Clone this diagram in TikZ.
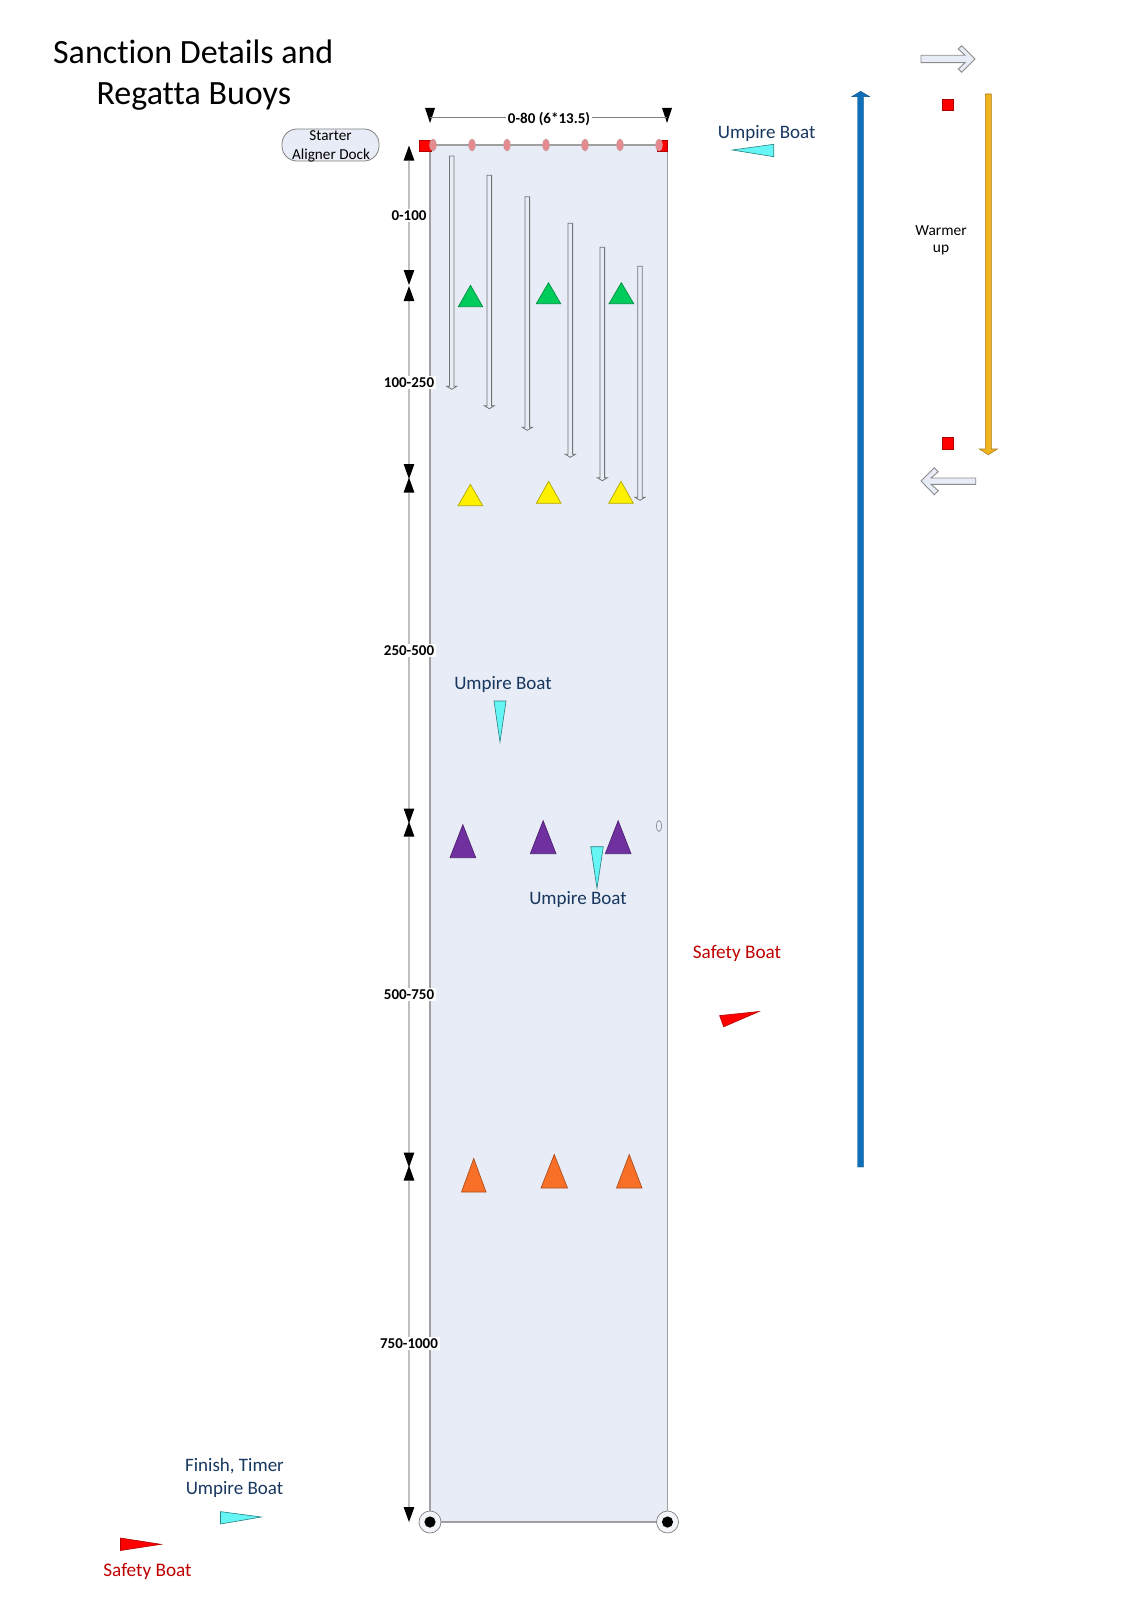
\documentclass[tikz,border=0pt]{standalone}
\usepackage{fontspec}
\setmainfont[Ligatures=NoCommon]{Carlito}
\usetikzlibrary{arrows.meta}
\definecolor{lane}{HTML}{E8ECF6}
\definecolor{rule}{HTML}{BFBFBF}
\definecolor{edgec}{HTML}{A0A0A0}
\definecolor{navy}{HTML}{17375E}
\definecolor{pinkb}{HTML}{E58A8F}
\definecolor{boatc}{HTML}{66F5F5}
\definecolor{greenb}{HTML}{00CC5C}
\definecolor{yellowb}{HTML}{FFF000}
\definecolor{purpleb}{HTML}{7030A0}
\definecolor{orangeb}{HTML}{F87028}
\definecolor{bluea}{HTML}{0F6FB8}
\definecolor{golda}{HTML}{F0B41E}
\tikzset{
  x=0.5pt,y=-0.5pt,
  dimline/.style={draw=rule,line width=0.65pt,{Triangle[length=7.5pt,width=5.4pt,color=black,line width=0pt]}-{Triangle[length=7.5pt,width=5.4pt,color=black,line width=0pt]}},
  dimlabel/.style={fill=white,inner sep=0.8pt,font=\bfseries\fontsize{7.5}{9}\selectfont,text=black},
  boatlabel/.style={font=\fontsize{9.5}{11}\selectfont,text=navy,inner sep=0pt,align=center},
  safelabel/.style={font=\fontsize{9.6}{11}\selectfont,text=red!75!black,inner sep=0pt},
  boat/.style={fill=boatc,draw=teal!70!gray,line width=0.3pt},
  redboat/.style={fill=red,draw=red!70!black,line width=0.3pt},
  buoy/.style={line width=0.35pt},
  gate/.style={fill=pinkb,draw=rule!80!red,line width=0.3pt},
  redsq/.style={fill=red,draw=red!70!black,line width=0.35pt},
  lanearrow/.style={fill=lane,draw=gray!90!black,line width=0.4pt},
  hollow/.style={fill=lane,draw=gray!90!white,line width=0.45pt},
}
\newcommand{\tri}[5]{\fill[#1,buoy,draw=#1!70!black] (#2,#5) -- (#3,#5) -- ({(#2+#3)/2},#4) -- cycle;}
\newcommand{\lanearr}[3]{\draw[lanearrow] ({#1-2.3},#2) -- ({#1+2.3},#2) -- ({#1+2.3},{#3-3}) -- ({#1+5},{#3-3}) -- (#1,#3) -- ({#1-5},{#3-3}) -- ({#1-2.3},{#3-3}) -- cycle;}
\begin{document}
\begin{tikzpicture}
\useasboundingbox (0,0) rectangle (1132,1600);
% course
\fill[lane,draw=edgec,line width=0.55pt] (430,145) rectangle (667.5,1522);
% title
\node[font=\fontsize{17}{20}\selectfont,inner sep=0pt,anchor=base] (title1) at (193.3,64) {Sanction Details and};
\node[font=\fontsize{17}{20}\selectfont,inner sep=0pt,anchor=base] (title2) at (193.8,104.7) {Regatta Buoys};
% width dimension
\coordinate (wl) at (430,118);
\coordinate (wr) at (667,118);
\fill[black] (425,108) -- (435,108) -- (430,123) -- cycle;
\fill[black] (662,108) -- (672,108) -- (667,123) -- cycle;
\draw[draw=gray,line width=0.5pt] (wl) -- (wr);
\node[dimlabel] (wlabel) at (549,119) {0-80 (6*13.5)};
% dock
\node[draw=gray,fill=lane,rounded corners=7.5pt,minimum width=48.5pt,minimum height=16pt,inner sep=0pt,line width=0.4pt] (dock) at (330.5,145) {};
\node[font=\fontsize{7.6}{9}\selectfont,inner sep=0pt] (dock1) at (330.5,136) {Starter};
\node[font=\fontsize{7.6}{9}\selectfont,inner sep=0pt] (dock2) at (331,155.5) {Aligner Dock};
% start
\draw[redsq] (419,140) rectangle (431,151);
\draw[redsq] (657,140) rectangle (667,151);
\foreach \gx in {433,472,507,546,585,620,659}{\draw[gate] (\gx,145) ellipse (3.3 and 6);}
% vertical dimensions
\coordinate (d0) at (409,145.5);
\coordinate (d1) at (409,285);
\coordinate (d1b) at (409,286);
\coordinate (d2) at (409,479);
\coordinate (d2b) at (409,477.5);
\coordinate (d3) at (409,823.5);
\coordinate (d3b) at (409,821.5);
\coordinate (d4) at (409,1167.5);
\coordinate (d4b) at (409,1165.5);
\coordinate (d5) at (409,1522);
\draw[dimline] (d0) -- (d1) node[dimlabel,pos=0.5] (l1) {0-100};
\draw[dimline] (d1b) -- (d2) node[dimlabel,pos=0.5] (l2) {100-250};
\draw[dimline] (d2b) -- (d3) node[dimlabel,pos=0.5] (l3) {250-500};
\draw[dimline] (d3b) -- (d4) node[dimlabel,pos=0.5] (l4) {500-750};
\draw[dimline] (d4b) -- (d5) node[dimlabel,pos=0.5] (l5) {750-1000};
% lane arrows
\lanearr{451.7}{156}{389.3}
\lanearr{489.3}{175.3}{408.7}
\lanearr{527.3}{196.7}{430.3}
\lanearr{570.3}{223.3}{457.3}
\lanearr{602.3}{247.3}{480.7}
\lanearr{640}{266.3}{500.3}
% buoys
\tri{greenb}{458.3}{482.7}{285.3}{306.7}
\tri{greenb}{536.3}{560.7}{282.7}{303.7}
\tri{greenb}{609}{633.7}{282.7}{303.7}
\tri{yellowb}{458}{482.7}{484.3}{505.7}
\tri{yellowb}{536.3}{561}{481.3}{503.3}
\tri{yellowb}{608.7}{633.3}{481.3}{503.3}
\tri{purpleb}{450}{475.7}{824.7}{857.7}
\tri{purpleb}{530.3}{556}{820.7}{853.7}
\tri{purpleb}{605.3}{631}{820.7}{853.7}
\tri{orangeb}{461.5}{486}{1158.5}{1192}
\tri{orangeb}{541}{567.5}{1154.5}{1188}
\tri{orangeb}{616.5}{642}{1154.5}{1188}
\draw[fill=lane,draw=gray,line width=0.3pt] (659,826) ellipse (2.7 and 5.5);
% umpire boats
\node[boatlabel] (ub1) at (766.7,133.5) {Umpire Boat};
\draw[boat] (732.3,150) -- (773.7,144.3) -- (773.7,156.7) -- cycle;
\node[boatlabel] (ub2) at (503,684) {Umpire Boat};
\draw[boat] (494,701) -- (506,701) -- (500,742) -- cycle;
\draw[boat] (590.7,846.7) -- (603.3,846.7) -- (597,888.3) -- cycle;
\node[boatlabel] (ub3) at (578,899) {Umpire Boat};
\node[boatlabel] (ub4a) at (234.5,1466) {Finish, Timer};
\node[boatlabel] (ub4b) at (234.5,1489) {Umpire Boat};
\draw[boat] (220.5,1511.6) -- (220.5,1524) -- (261.3,1517) -- cycle;
% safety
\node[safelabel] (sb1) at (737,953) {Safety Boat};
\draw[redboat] (719.6,1015.6) -- (759,1011.5) -- (723.7,1026.8) -- cycle;
\draw[redboat] (120.5,1538) -- (120.5,1550.5) -- (161,1544.3) -- cycle;
\node[safelabel] (sb2) at (147.5,1571) {Safety Boat};
% finish
\foreach \fx/\fn in {430/fa,667.5/fb}{
  \draw[fill=lane!50!white,draw=gray,line width=0.35pt] (\fx,1522) circle (11);
  \fill[black] (\fx,1522) circle (5.6);
}
% warm-up
\fill[bluea,draw=bluea!70!black,line width=0.2pt] (857.7,1167) -- (857.7,96.7) -- (851.7,96.7) -- (860.7,91.3) -- (869.7,96.7) -- (863.7,96.7) -- (863.7,1167) -- cycle;
\fill[golda,draw=golda!70!black,line width=0.3pt] (985.3,94) -- (991.3,94) -- (991.3,449) -- (997.3,449) -- (988.3,454.7) -- (979.3,449) -- (985.3,449) -- cycle;
\draw[redsq] (942,99.3) rectangle (953.3,110.3);
\draw[redsq] (942,437.3) rectangle (953.3,449.3);
\node[font=\fontsize{7.7}{9}\selectfont,inner sep=0pt] (w1) at (941,231) {Warmer};
\node[font=\fontsize{7.7}{9}\selectfont,inner sep=0pt] (w2) at (941,250) {up};
\draw[hollow] (921,55.3) -- (965,55.3) -- (958.3,49) -- (961.7,45.7) -- (975,59) -- (961.7,72.3) -- (958.3,69) -- (965,62.7) -- (921,62.7) -- cycle;
\draw[hollow] (975.7,478) -- (931,478) -- (938.3,471.7) -- (934.3,467.7) -- (921,481) -- (934.3,494.7) -- (938.3,490.7) -- (931,484.3) -- (975.7,484.3) -- cycle;
\end{tikzpicture}
\end{document}
